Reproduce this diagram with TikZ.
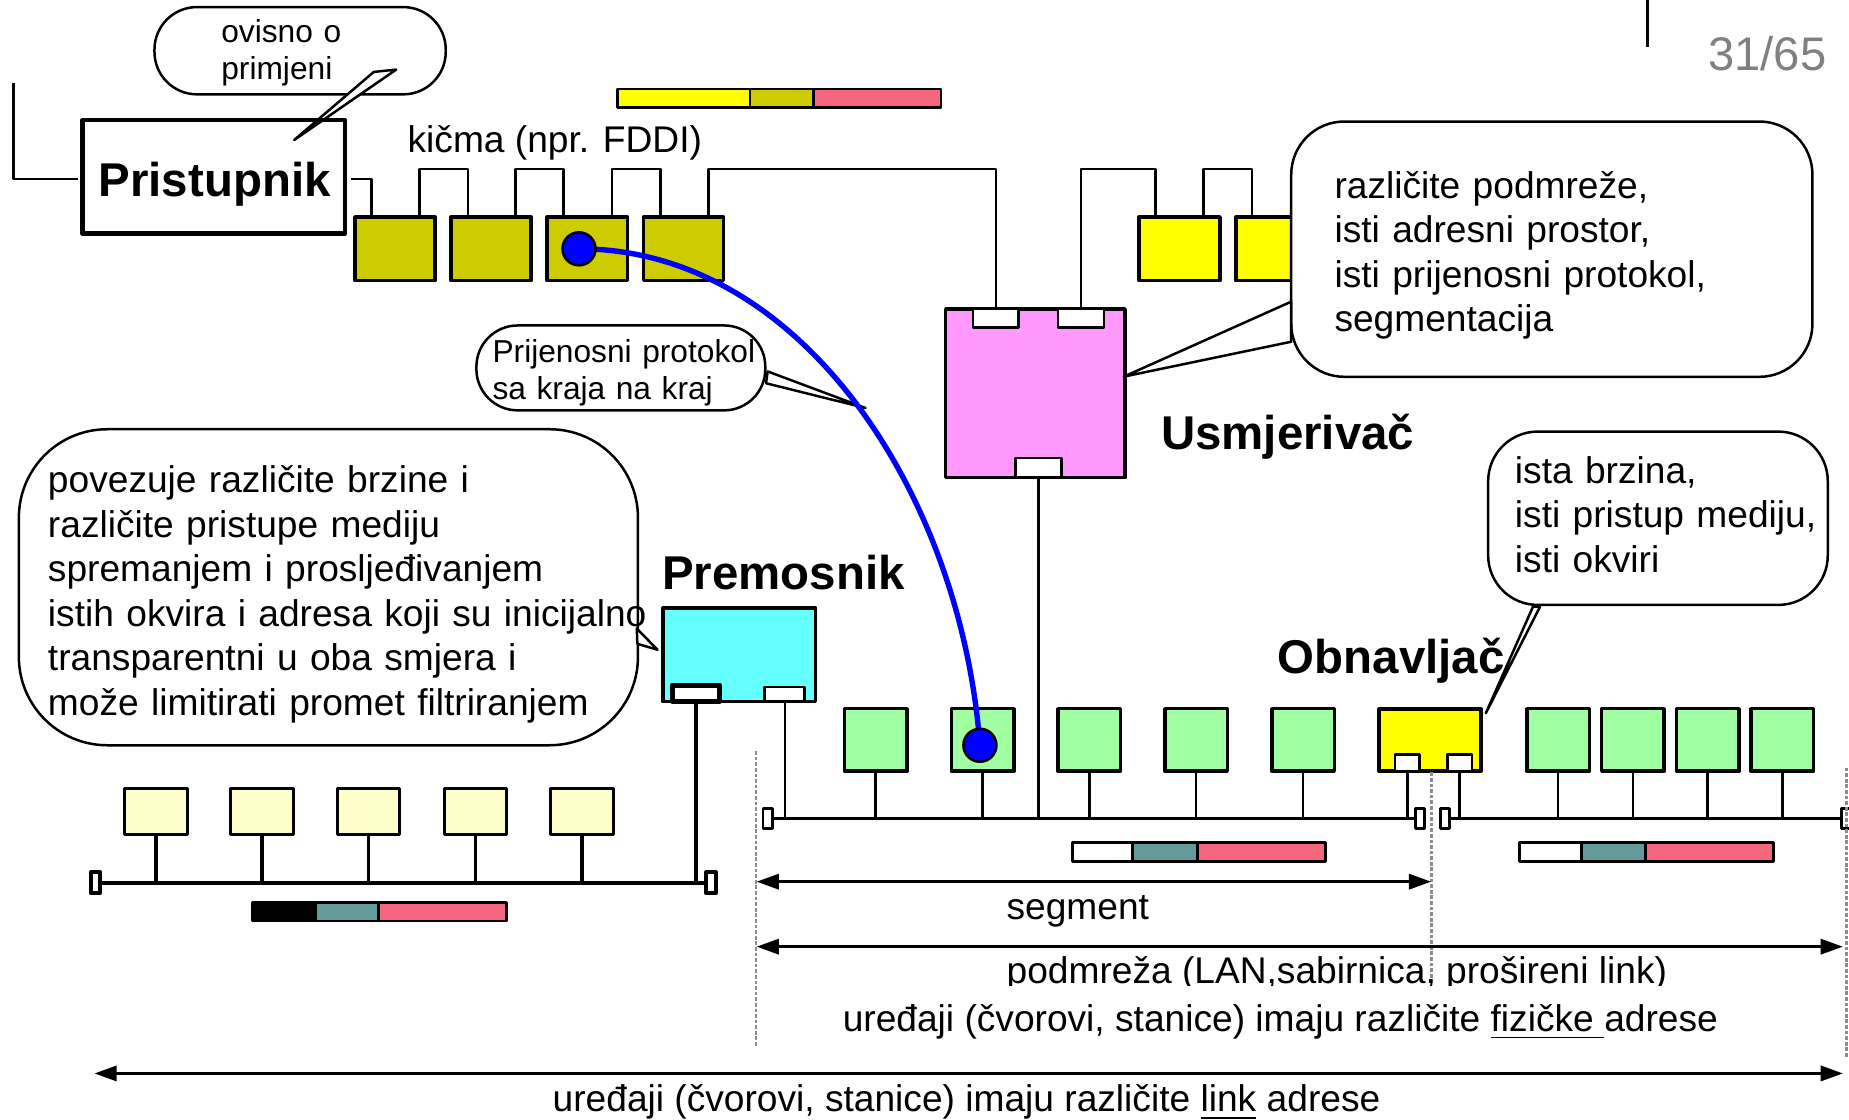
\documentclass[tikz,border=0pt]{standalone}
\usepackage{fontspec}
\setmainfont{Liberation Sans}
\usetikzlibrary{arrows.meta,calc}

\definecolor{olivebox}{HTML}{CCCC00}
\definecolor{yellowbox}{HTML}{FFFF00}
\definecolor{greenbox}{HTML}{A0FFA0}
\definecolor{creambox}{HTML}{FFFFCC}
\definecolor{cyanbox}{HTML}{66FFFF}
\definecolor{pinkbox}{HTML}{FF99FF}
\definecolor{framered}{HTML}{F4667F}
\definecolor{frameteal}{HTML}{669999}
\definecolor{pagegray}{HTML}{808080}
\definecolor{guidegray}{HTML}{8C8C8C}

\newcommand\txtnorm{\fontsize{8.96pt}{10.73pt}\selectfont}
\newcommand\txtsmall{\fontsize{7.65pt}{8.82pt}\selectfont}
\newcommand\txtbold{\fontsize{11.44pt}{13.7pt}\selectfont\bfseries}

\begin{document}
\begin{tikzpicture}[x=0.1mm, y=-0.1mm, line join=round,
  wire/.style={line width=0.6pt},
  heavywire/.style={line width=0.9pt},
  dev/.style 2 args={draw, line width=0.85pt, inner sep=0pt, outer sep=0pt,
    minimum width=#1*0.1mm, minimum height=#2*0.1mm},
  port/.style 2 args={dev={#1}{#2}, fill=white, line width=0.65pt},
  term/.style={dev={8}{17}, fill=white, line width=0.7pt},
  heavyterm/.style={dev={8}{18}, fill=white, line width=0.95pt},
  bubble/.style 2 args={draw, fill=white, line width=0.6pt, inner sep=0pt, outer sep=0pt,
    minimum width=#1*0.1mm, minimum height=#2*0.1mm},
  pointer/.style={fill=white, draw, line width=0.6pt},
  frame/.style={draw, line width=0.7pt},
  bubtext/.style={anchor=base west, inner sep=0pt, align=left, font=\txtnorm},
  smalltext/.style={anchor=base west, inner sep=0pt, align=left, font=\txtsmall},
  devname/.style={anchor=base west, inner sep=0pt, font=\txtbold},
  plain/.style={anchor=base west, inner sep=0pt, font=\txtnorm},
  guide/.style={draw=guidegray, line width=0.6pt, dash pattern=on 0.9pt off 0.45pt},
  dimarrow/.style={line width=0.85pt,
    {Triangle[length=5.4pt,width=3.6pt]}-{Triangle[length=5.4pt,width=3.6pt]}}
]
\useasboundingbox[fill=white] (0,0) rectangle (1568,949);

% ---------- frame formats ----------
\filldraw[frame, fill=yellowbox] (524,75.5) rectangle (636,91.5);
\filldraw[frame, fill=olivebox]  (636,75.5) rectangle (690,91.5);
\filldraw[frame, fill=framered]  (690,75.5) rectangle (798,91.5);

\filldraw[frame, fill=black]     (214,765) rectangle (267.6,781);
\filldraw[frame, fill=frameteal] (267.6,765) rectangle (321,781);
\filldraw[frame, fill=framered]  (321,765) rectangle (429.6,781);

\filldraw[frame, fill=white]     (909.4,714.6) rectangle (960.4,730.7);
\filldraw[frame, fill=frameteal] (960.4,714.6) rectangle (1015.6,730.7);
\filldraw[frame, fill=framered]  (1015.6,714.6) rectangle (1124,730.7);

\filldraw[frame, fill=white]     (1288.4,714.6) rectangle (1341.2,730.7);
\filldraw[frame, fill=frameteal] (1341.2,714.6) rectangle (1395.2,730.7);
\filldraw[frame, fill=framered]  (1395.2,714.6) rectangle (1503.7,730.7);

% ---------- backbone stations ----------
\node[dev={68}{54}, fill=olivebox] (ob1) at (335,211) {};
\node[dev={68}{54}, fill=olivebox] (ob2) at (416.5,211) {};
\node[dev={68}{54}, fill=olivebox] (ob3) at (498,211) {};
\node[dev={68}{54}, fill=olivebox] (ob4) at (579.5,211) {};
\node[dev={68.6}{54}, fill=yellowbox] (yb1) at (1000.3,211) {};
\node[dev={68.6}{54}, fill=yellowbox] (yb2) at (1082.3,211) {};

% ---------- router ----------
\node[dev={152}{143}, fill=pinkbox] (rt) at (878,333.5) {};
\node[port={39}{16}] (rp1) at (844.5,270) {};
\node[port={39}{16}] (rp2) at (916.8,270) {};
\node[port={39}{16}] (rp3) at (880.5,396.5) {};

% ---------- bridge ----------
\node[dev={129.7}{79.2}, fill=cyanbox] (br) at (626.9,555.4) {};
\node[port={40.5}{14}, line width=1.2pt] (bp1) at (590.3,588) {};
\node[port={34}{12.4}] (bp2) at (665.5,588.8) {};

% ---------- repeater ----------
\node[dev={86.5}{52.5}, fill=yellowbox] (rep) at (1212.8,627.7) {};
\node[port={21}{14.4}] (rq1) at (1193.5,646.8) {};
\node[port={21}{14.4}] (rq2) at (1237.8,646.8) {};

% ---------- LAN stations ----------
\foreach \x [count=\i] in {742.6,833.3,923.8,1014.3,1105}
  \node[dev={53}{53}, fill=greenbox] (g\i) at (\x,627.5) {};
\foreach \x [count=\i] in {1321.3,1384.8,1448.2,1511.5}
  \node[dev={53}{53}, fill=greenbox] (h\i) at (\x,627.5) {};
\foreach \x [count=\i] in {132.2,222.3,312.5,403.3,493.7}
  \node[dev={53}{39}, fill=creambox, line width=0.7pt] (c\i) at (\x,688.5) {};

% ---------- bus terminators ----------
\node[term] (t1) at (651,694) {};
\node[term] (t2) at (1204,694) {};
\node[term] (t3) at (1225.3,694) {};
\node[term] (t4) at (1566,694) {};
\node[heavyterm] (t5) at (81,748.5) {};
\node[heavyterm] (t6) at (603,748.5) {};

% ---------- buses and drops ----------
\draw[wire] (t1.east) -- (t2.west);
\draw[wire] (t3.east) -- (t4.west);
\draw[heavywire] (t5.east) -- (t6.west);
\foreach \n in {g1,g2,g3,g4,g5,h1,h2,h3,h4}
  \draw[wire] (\n.south) -- (\n.south |- t1.center);
\draw[wire] (rp3.south) -- (rp3.south |- t1.center);
\draw[wire] (bp2.south) -- (bp2.south |- t1.center);
\draw[wire] (rq1.south) -- (rq1.south |- t1.center);
\draw[wire] (rq2.south) -- (rq2.south |- t1.center);
\foreach \n in {c1,c2,c3,c4,c5}
  \draw[heavywire] (\n.south) -- (\n.south |- t5.center);
\draw[heavywire] (bp1.south) -- (bp1.south |- t5.center);

% ---------- backbone ring ----------
\draw[wire] ([xshift=2.06mm]ob1.north) -- ++(0,-40.5) -| ([xshift=-1.98mm]ob2.north);
\draw[wire] ([xshift=2.05mm]ob2.north) -- ++(0,-40.5) -| ([xshift=-2mm]ob3.north);
\draw[wire] ([xshift=2.1mm]ob3.north) -- ++(0,-40.5) -| ([xshift=-1.95mm]ob4.north);
\draw[wire] ([xshift=2.15mm]ob4.north) -- ++(0,-40.5) -| (rp1.north);
\draw[wire] (rp2.north) -- ++(0,-118.5) -| ([xshift=-2.03mm]yb1.north);
\draw[wire] ([xshift=2.04mm]yb1.north) -- ++(0,-40.5) -| ([xshift=-2.07mm]yb2.north);

% ---------- callouts ----------
\node[bubble={247}{74}, rounded corners=3.6mm] (bb1) at (254.5,43) {};
\node[bubble={245}{72}, rounded corners=3.5mm] (bb2) at (526.5,312) {};
\node[bubble={442}{216.5}, rounded corners=4.5mm] (bb3) at (1316,211.3) {};
\node[bubble={525}{268}, rounded corners=7.5mm] (bb4) at (278.5,498) {};
\node[bubble={288}{147}, rounded corners=4.2mm] (bb5) at (1406,439.5) {};

\filldraw[pointer] (317,61) -- (336,59) -- (249.5,118.7) -- cycle;
\filldraw[pointer] (651,315) -- (734,346) -- (649.6,325) -- cycle;
\filldraw[pointer] (1095,255.8) -- (953,319.4) -- (1095,289.8) -- cycle;
\filldraw[pointer] (540,533) -- (557.6,551) -- (540.5,546) -- cycle;
\filldraw[pointer] (1300,514.5) -- (1260,604.8) -- (1306,514.5) -- cycle;

% ---------- gateway ----------
\node[dev={222.7}{96}, line width=1.1pt] (pr) at (181.3,149.9) {};
\coordinate (gwup) at (11.5,70);
\draw[wire] (gwup) |- ([xshift=-0.4mm, yshift=-0.2mm]pr.west);
\draw[wire] ([xshift=0.5mm, yshift=-0.2mm]pr.east) -| ([xshift=-2mm]ob1.north);

% ---------- end-to-end path ----------
\coordinate (e1) at (491,211);
\coordinate (e2) at (831,632);
\draw[blue, line width=1.3pt] (e1) .. controls (680,211) and (815,420) .. (e2);
\node[circle, fill=blue, draw=black, line width=0.6pt, minimum size=2.8mm, inner sep=0pt] (d1) at (e1) {};
\node[circle, fill=blue, draw=black, line width=0.6pt, minimum size=2.8mm, inner sep=0pt] (d2) at (e2) {};

% ---------- texts ----------
\node[devname] (lpr) at (83,166.5) {Pristupnik};
\node[devname] (lrt) at (984,381) {Usmjerivač};
\node[devname] (lbr) at (561,500) {Premosnik};
\node[devname] (lrep) at (1083,571) {Obnavljač};
\node[plain] (lbb) at (345,129) {kičma (npr. FDDI)};
\node[anchor=base west, inner sep=0pt, font=\fontsize{11.38pt}{13pt}\selectfont, text=pagegray] (pg) at (1448,60) {31/65};
\coordinate (sepT) at (1397.3,0);
\coordinate (sepB) at (1397.3,39.6);
\draw[line width=0.75pt] (sepT) -- (sepB);

\node[smalltext, text width=15mm] (tb1) at (187,36) {ovisno o\\primjeni};
\node[smalltext, text width=25mm] (tb2) at (417,307.5) {Prijenosni protokol\\sa kraja na kraj};
\node[bubtext, text width=40mm] (tb3) at (1131,168) {različite podmreže,\\isti adresni prostor,\\isti prijenosni protokol,\\segmentacija};
\node[bubtext, text width=55mm] (tb4) at (40,418) {povezuje različite brzine i\\različite pristupe mediju\\spremanjem i prosljeđivanjem\\istih okvira i adresa koji su inicijalno\\transparentni u oba smjera i\\može limitirati promet filtriranjem};
\node[bubtext, text width=30mm] (tb5) at (1284,410) {ista brzina,\\isti pristup mediju,\\isti okviri};

% ---------- extents ----------
\coordinate (v1t) at (641,637);   \coordinate (v1b) at (641,888);
\coordinate (v2t) at (1214,655);  \coordinate (v2b) at (1214,834);
\coordinate (v3t) at (1566,651);  \coordinate (v3b) at (1566,897);
\draw[guide] (v1t) -- (v1b);
\draw[guide] (v2t) -- (v2b);
\draw[guide] (v3t) -- (v3b);

\coordinate (sgL) at (641.5,747.7); \coordinate (sgR) at (1213.8,747.7);
\coordinate (pmL) at (641.5,802.8); \coordinate (pmR) at (1563,802.8);
\coordinate (lkL) at (80,910.3);    \coordinate (lkR) at (1563,910.3);
\draw[dimarrow] (sgL) -- (sgR);
\draw[dimarrow] (pmL) -- (pmR);
\draw[dimarrow] (lkL) -- (lkR);

\node[anchor=base, inner sep=0pt, font=\txtnorm] (lseg) at (914,780) {segment};
\begin{scope}
  \clip (800,780) rectangle (1500,835.5);
  \node[plain] (lsub) at (853,834) {podmreža (LAN,sabirnica, prošireni link)};
\end{scope}
\node[plain] (lphy) at (714,874.5) {uređaji (čvorovi, stanice) imaju različite \underline{fizičke }adrese};
\node[plain] (llnk) at (468,943) {uređaji (čvorovi, stanice) imaju različite \underline{link} adrese};

\end{tikzpicture}
\end{document}
